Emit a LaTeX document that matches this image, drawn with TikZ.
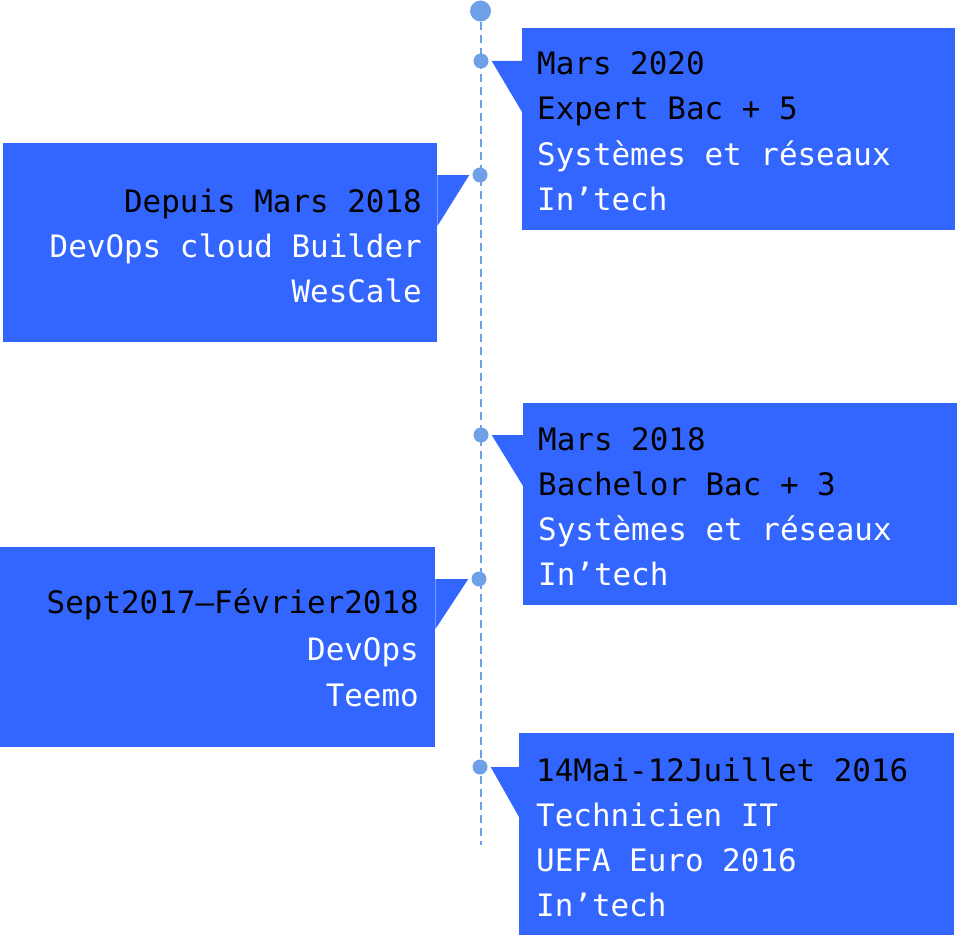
\documentclass[tikz,border=0pt]{standalone}
\usepackage{fontspec}
\setmonofont{DejaVu Sans Mono}
\definecolor{boxblue}{HTML}{3366FF}
\definecolor{dotblue}{HTML}{6EA0E8}
\tikzset{
  box/.style = {fill=boxblue, inner sep=0pt, anchor=north west},
  dot/.style = {circle, fill=dotblue, inner sep=0pt, minimum size=15pt},
  bigdot/.style = {circle, fill=dotblue, inner sep=0pt, minimum size=21pt},
  head/.style = {font=\ttfamily\fontsize{30.9}{45}\selectfont, inner sep=0pt, text=black},
  body/.style = {head, text=white},
  pointer/.style = {fill=boxblue},
}
\begin{document}
\begin{tikzpicture}[x=1pt, y=-1pt]
\useasboundingbox (0,0) rectangle (958,947);
% timeline
\node[bigdot] (top) at (480.5,11) {};
\coordinate (end) at (480.5,845);
\draw[dotblue, line width=2pt, dash pattern=on 8pt off 5pt] (top) -- (end);
\node[dot] (d1) at (481,61) {};
\node[dot] (d2) at (480,175) {};
\node[dot] (d3) at (481,435) {};
\node[dot] (d4) at (479,579) {};
\node[dot] (d5) at (480,767) {};
% boxes
\node[box, minimum width=433pt, minimum height=202pt] (b1) at (522,28) {};
\node[box, minimum width=434pt, minimum height=199pt] (b2) at (3,143) {};
\node[box, minimum width=434pt, minimum height=202pt] (b3) at (523,403) {};
\node[box, minimum width=435pt, minimum height=200pt] (b4) at (0,547) {};
\node[box, minimum width=435pt, minimum height=202pt] (b5) at (519,733) {};
% pointers
\fill[pointer] ([xshift=3pt]d1.east) -- (b1.west |- d1) -- ([yshift=-51pt]b1.west |- d1) -- cycle;
\fill[pointer] ([xshift=-3pt]d2.west) -- (b2.east |- d2) -- ([yshift=-51pt]b2.east |- d2) -- cycle;
\fill[pointer] ([xshift=3pt]d3.east) -- (b3.west |- d3) -- ([yshift=-51pt]b3.west |- d3) -- cycle;
\fill[pointer] ([xshift=-3pt]d4.west) -- (b4.east |- d4) -- ([yshift=-50pt]b4.east |- d4) -- cycle;
\fill[pointer] ([xshift=3pt]d5.east) -- (b5.west |- d5) -- ([yshift=-50pt]b5.west |- d5) -- cycle;
% texts
\node[head, anchor=base west] (b1a) at (537,75) {Mars 2020};
\node[head, anchor=base west] (b1b) at (537,120) {Expert Bac + 5};
\node[body, anchor=base west] (b1c) at (537,165) {Systèmes et réseaux};
\node[body, anchor=base west] (b1d) at (537,210) {In’tech};
\node[head, anchor=base east] (b2a) at (422,212) {Depuis Mars 2018};
\node[body, anchor=base east] (b2b) at (422,257) {DevOps cloud Builder};
\node[body, anchor=base east] (b2c) at (422,302) {WesCale};
\node[head, anchor=base west] (b3a) at (538,450) {Mars 2018};
\node[head, anchor=base west] (b3b) at (538,495) {Bachelor Bac + 3};
\node[body, anchor=base west] (b3c) at (538,540) {Systèmes et réseaux};
\node[body, anchor=base west] (b3d) at (538,585) {In’tech};
\node[head, anchor=base east] (b4a) at (419,613) {Sept2017—Février2018};
\node[body, anchor=base east] (b4b) at (419,660) {DevOps};
\node[body, anchor=base east] (b4c) at (419,706) {Teemo};
\node[head, anchor=base west] (b5a) at (536,781) {14Mai-12Juillet 2016};
\node[body, anchor=base west] (b5b) at (536,826) {Technicien IT};
\node[body, anchor=base west] (b5c) at (536,871) {UEFA Euro 2016};
\node[body, anchor=base west] (b5d) at (536,916) {In’tech};
\end{tikzpicture}
\end{document}
